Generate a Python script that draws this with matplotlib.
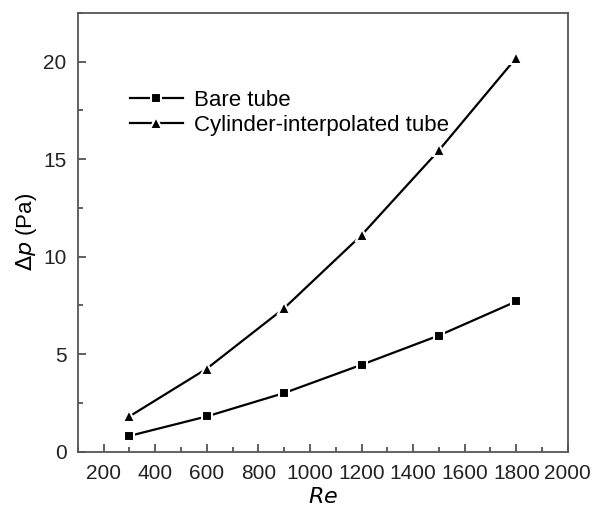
import matplotlib.pyplot as plt
import numpy as np

plt.rcParams['font.family'] = ['Liberation Sans', 'DejaVu Sans']

re_vals = [300, 600, 900, 1200, 1500, 1800]
dp_bare = [0.8, 1.8, 3.0, 4.45, 5.95, 7.7]
dp_cyl = [1.8, 4.25, 7.35, 11.1, 15.45, 20.2]

fig = plt.figure(figsize=(6.08, 5.16), dpi=100)
ax = fig.add_axes([0.128, 0.125, 0.806, 0.85])

ax.plot(re_vals, dp_bare, '-s', color='k', lw=1.6, markersize=7,
        markeredgecolor='white', markeredgewidth=1.5, label='Bare tube')
ax.plot(re_vals, dp_cyl, '-^', color='k', lw=1.6, markersize=8.5,
        markeredgecolor='white', markeredgewidth=1.5, label='Cylinder-interpolated tube')

ax.set_xlim(100, 2000)
ax.set_ylim(0, 22.5)
ax.set_xticks(np.arange(200, 2001, 200))
ax.set_xticks(np.arange(100, 2001, 100), minor=True)
ax.set_yticks([0, 5, 10, 15, 20])
ax.set_yticks(np.arange(0, 22.6, 2.5), minor=True)
ax.tick_params(which='both', direction='in', labelsize=15, width=1.2, color='#444444',
               labelcolor='#222222')
ax.tick_params(which='major', length=6)
ax.tick_params(which='minor', length=3.5)
ax.tick_params(axis='x', pad=9)
ax.tick_params(axis='y', pad=8)

for s in ax.spines.values():
    s.set_color('#555555')
    s.set_linewidth(1.3)

ax.set_xlabel('$Re$', fontsize=16, labelpad=3)
ax.set_ylabel(r'$\Delta p$ (Pa)', fontsize=16, labelpad=3)

ax.legend(loc='upper left', bbox_to_anchor=(0.065, 0.87), frameon=False,
          fontsize=16, handlelength=2.4, handletextpad=0.5, labelspacing=0.17)

plt.savefig('out.png', dpi=100)
